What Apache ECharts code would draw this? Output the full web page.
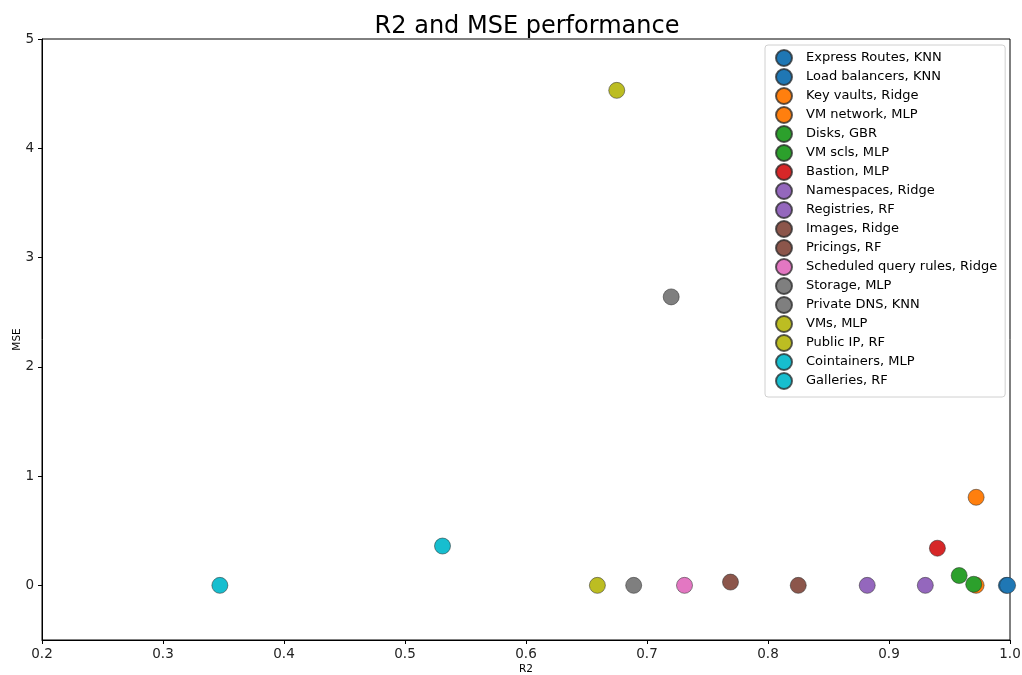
<!DOCTYPE html>
<html>
<head>
<meta charset="utf-8">
<script src="https://cdn.jsdelivr.net/npm/echarts@6/dist/echarts.min.js"></script>
<style>html,body{margin:0;padding:0;background:#fff}#c{width:1022px;height:675px}</style>
</head>
<body>
<div id="c"></div>
<script>
const names = ["Express Routes, KNN","Load balancers, KNN","Key vaults, Ridge","VM network, MLP","Disks, GBR","VM scls, MLP","Bastion, MLP","Namespaces, Ridge","Registries, RF","Images, Ridge","Pricings, RF","Scheduled query rules, Ridge","Storage, MLP","Private DNS, KNN","VMs, MLP","Public IP, RF","Cointainers, MLP","Galleries, RF"];
const r2Values = [0.997, 0.998, 0.972, 0.972, 0.958, 0.970, 0.940, 0.882, 0.930, 0.769, 0.825, 0.731, 0.720, 0.689, 0.675, 0.659, 0.531, 0.347];
const mseValues = [0.0, 0.0, 0.0, 0.806, 0.09, 0.01, 0.34, 0.0, 0.0, 0.03, 0.0, 0.0, 2.64, 0.0, 4.53, 0.0, 0.36, 0.0];
const colors = ["#1f77b4","#1f77b4","#ff7f0e","#ff7f0e","#2ca02c","#2ca02c","#d62728","#9467bd","#9467bd","#8c564b","#8c564b","#e377c2","#7f7f7f","#7f7f7f","#bcbd22","#bcbd22","#17becf","#17becf"];
const xTicks = [0.2, 0.3, 0.4, 0.5, 0.6, 0.7, 0.8, 0.9, 1.0];
const yTicks = [0, 1, 2, 3, 4, 5];

const font = "DejaVu Sans";
const chart = echarts.init(document.getElementById('c'), null, {renderer: 'canvas'});
const series = names.map((n, i) => ({
  name: n,
  type: 'scatter',
  symbol: 'circle',
  symbolSize: 16,
  itemStyle: {color: colors[i], borderColor: 'rgba(40,40,40,0.75)', borderWidth: 0.7, opacity: 1},
  emphasis: {disabled: true},
  data: [[r2Values[i], mseValues[i]]]
}));
chart.setOption({
  animation: false,
  textStyle: {fontFamily: font},
  title: {text: 'R2 and MSE performance', left: 522, textAlign: 'center', top: 10,
    textStyle: {fontFamily: font, fontSize: 24, fontWeight: 'normal', color: '#000'}},
  grid: {left: 42, right: 12, top: 39, bottom: 35, outerBoundsMode: 'none', containLabel: false,
    show: true, borderColor: '#000', borderWidth: 1, backgroundColor: 'transparent'},
  legend: {
    orient: 'vertical', left: 765, top: 45,
    padding: [4, 8, 7, 10],
    itemWidth: 16, itemHeight: 16, itemGap: 1,
    backgroundColor: '#fff', borderColor: '#d0d0d0', borderWidth: 1, borderRadius: 3,
    textStyle: {fontFamily: font, fontSize: 13, lineHeight: 16, color: '#000', padding: [0, 0, 0, 9]},
    data: names.map(n => ({name: n, icon: 'circle'}))
  },
  xAxis: {
    type: 'value', min: 0.2, max: 1.0,
    name: 'R2', nameLocation: 'middle', nameGap: 24, nameMoveOverlap: false,
    nameTextStyle: {fontFamily: font, fontSize: 10.5, color: '#000'},
    axisLine: {show: true, onZero: false, lineStyle: {color: '#000', width: 1}},
    axisTick: {show: true, length: 4, customValues: xTicks, lineStyle: {color: '#000'}},
    axisLabel: {customValues: xTicks, fontSize: 13.5, color: '#222', margin: 7, fontFamily: font,
      formatter: v => Number(v).toFixed(1)},
    splitLine: {show: false}
  },
  yAxis: {
    type: 'value', min: -0.5, max: 5,
    name: 'MSE', nameLocation: 'middle', nameGap: 19, nameMoveOverlap: false,
    nameTextStyle: {fontFamily: font, fontSize: 10.5, color: '#000'},
    axisLine: {show: true, onZero: false, lineStyle: {color: '#000', width: 1}},
    axisTick: {show: true, length: 4, customValues: yTicks, lineStyle: {color: '#000'}},
    axisLabel: {customValues: yTicks, fontSize: 13.5, color: '#222', margin: 8, fontFamily: font,
      formatter: v => String(Math.round(v))},
    splitLine: {show: false}
  },
  series: series
});
</script>
</body>
</html>
